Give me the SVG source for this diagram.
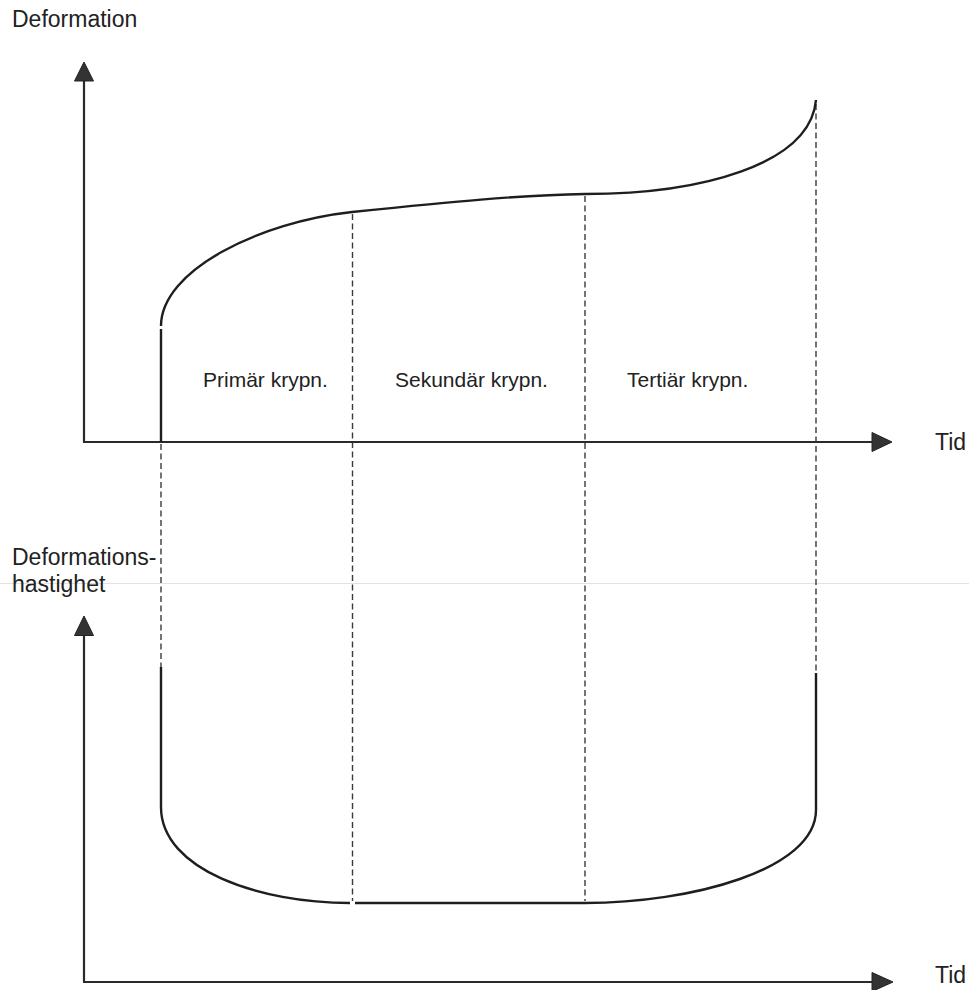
<svg xmlns="http://www.w3.org/2000/svg" width="969" height="990" viewBox="0 0 969 990">
<style>
.ax{stroke:#2a2a2a;stroke-width:2.2;fill:none}
.cv{stroke:#1e1e1e;stroke-width:2.4;fill:none;stroke-linecap:butt}
.ds{stroke:#3a3a3a;stroke-width:1.4;fill:none;stroke-dasharray:6 3.5}
.ah{fill:#333;stroke:#222;stroke-width:1}
.lb{font-family:"Liberation Sans",Arial,sans-serif;font-size:21px;fill:#222}
.al{font-family:"Liberation Sans",Arial,sans-serif;font-size:23px;fill:#222}
</style>
<rect width="969" height="990" fill="#fff"/>
<line x1="0" y1="583.5" x2="969" y2="583.5" stroke="#e2e2e2" stroke-width="1.2"/>
<g id="connectors">
<line class="ds" x1="161" y1="444" x2="161" y2="667"/>
<line class="ds" x1="352.5" y1="214" x2="352.5" y2="901"/>
<line class="ds" x1="585" y1="196" x2="585" y2="901"/>
<line class="ds" x1="816" y1="104" x2="816" y2="673"/>
</g>
<g id="top-axes">
<line class="ax" x1="84" y1="80" x2="84" y2="442"/>
<line class="ax" x1="83" y1="442" x2="874" y2="442"/>
<polygon class="ah" points="84,62 74.5,81 93.5,81"/>
<polygon class="ah" points="892,442 872,432.5 872,451.5"/>
<text class="al" x="12" y="27">Deformation</text>
<text class="al" x="935" y="450">Tid</text>
</g>
<g id="top-curve">
<path class="cv" d="M161,442 L161,329"/>
<path class="cv" d="M161,326 C161,270 260,222 352,212 C450,202 520,195 585,194 C700,194 810,165 816,100"/>
</g>
<g id="labels">
<text class="lb" x="203" y="387">Primär krypn.</text>
<text class="lb" x="395" y="387">Sekundär krypn.</text>
<text class="lb" x="627" y="387">Tertiär krypn.</text>
</g>
<g id="bottom-axes">
<line class="ax" x1="84" y1="634" x2="84" y2="982"/>
<line class="ax" x1="83" y1="982" x2="874" y2="982"/>
<polygon class="ah" points="84,616 74.5,635.5 93.5,635.5"/>
<polygon class="ah" points="893,982 872,972.5 872,991.5"/>
<text class="al" x="12" y="565">Deformations-</text>
<text class="al" x="12" y="592">hastighet</text>
<text class="al" x="935" y="983">Tid</text>
</g>
<g id="bottom-curve">
<path class="cv" d="M161,667 L161,807 C161,870 260,903 350,903"/>
<path class="cv" d="M355,903 L585,903 C690,903 816,870 816,810 L816,673"/>
</g>
</svg>
